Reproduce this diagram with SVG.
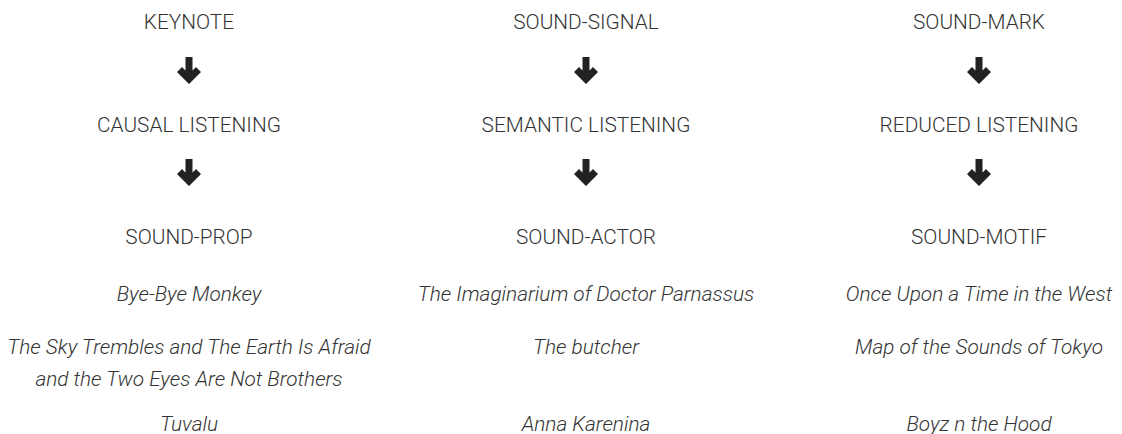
<svg xmlns="http://www.w3.org/2000/svg" width="1122" height="434" viewBox="0 0 1122 434">
<style>
.t{font-family:Roboto,"Liberation Sans",sans-serif;font-weight:300;font-size:20.8px;fill:#333;text-anchor:middle}
.i{font-style:italic}
.arr{fill:#222}
</style>
<defs>
<path id="ar" d="M-3.5,0 H3.5 V13.5 L7,10 L12,15 L0,27 L-12,15 L-7,10 L-3.5,13.5 Z"/>
</defs>
<rect width="1122" height="434" fill="#fff"/>
<g id="col1">
<g id="keynote"><text class="t" x="189" y="29">KEYNOTE</text></g>
<g id="causal"><text class="t" x="189" y="132">CAUSAL LISTENING</text></g>
<g id="prop"><text class="t" x="189" y="244">SOUND-PROP</text></g>
</g>
<g id="col2">
<g id="signal"><text class="t" x="586" y="29">SOUND-SIGNAL</text></g>
<g id="semantic"><text class="t" x="586" y="132">SEMANTIC LISTENING</text></g>
<g id="actor"><text class="t" x="586" y="244">SOUND-ACTOR</text></g>
</g>
<g id="col3">
<g id="mark"><text class="t" x="979" y="29">SOUND-MARK</text></g>
<g id="reduced"><text class="t" x="979" y="132">REDUCED LISTENING</text></g>
<g id="motif"><text class="t" x="979" y="244">SOUND-MOTIF</text></g>
</g>
<g id="connectors" class="arr">
<use href="#ar" x="189" y="57"/>
<use href="#ar" x="189" y="159"/>
<use href="#ar" x="586" y="57"/>
<use href="#ar" x="586" y="159"/>
<use href="#ar" x="979" y="57"/>
<use href="#ar" x="979" y="159"/>
</g>
<g id="examples">
<text class="t i" x="189" y="301">Bye-Bye Monkey</text>
<text class="t i" x="189" y="354">The Sky Trembles and The Earth Is Afraid</text>
<text class="t i" x="189" y="386">and the Two Eyes Are Not Brothers</text>
<text class="t i" x="189" y="431">Tuvalu</text>
<text class="t i" x="586" y="301">The Imaginarium of Doctor Parnassus</text>
<text class="t i" x="586" y="354">The butcher</text>
<text class="t i" x="586" y="431">Anna Karenina</text>
<text class="t i" x="979" y="301">Once Upon a Time in the West</text>
<text class="t i" x="979" y="354">Map of the Sounds of Tokyo</text>
<text class="t i" x="979" y="431">Boyz n the Hood</text>
</g>
</svg>
